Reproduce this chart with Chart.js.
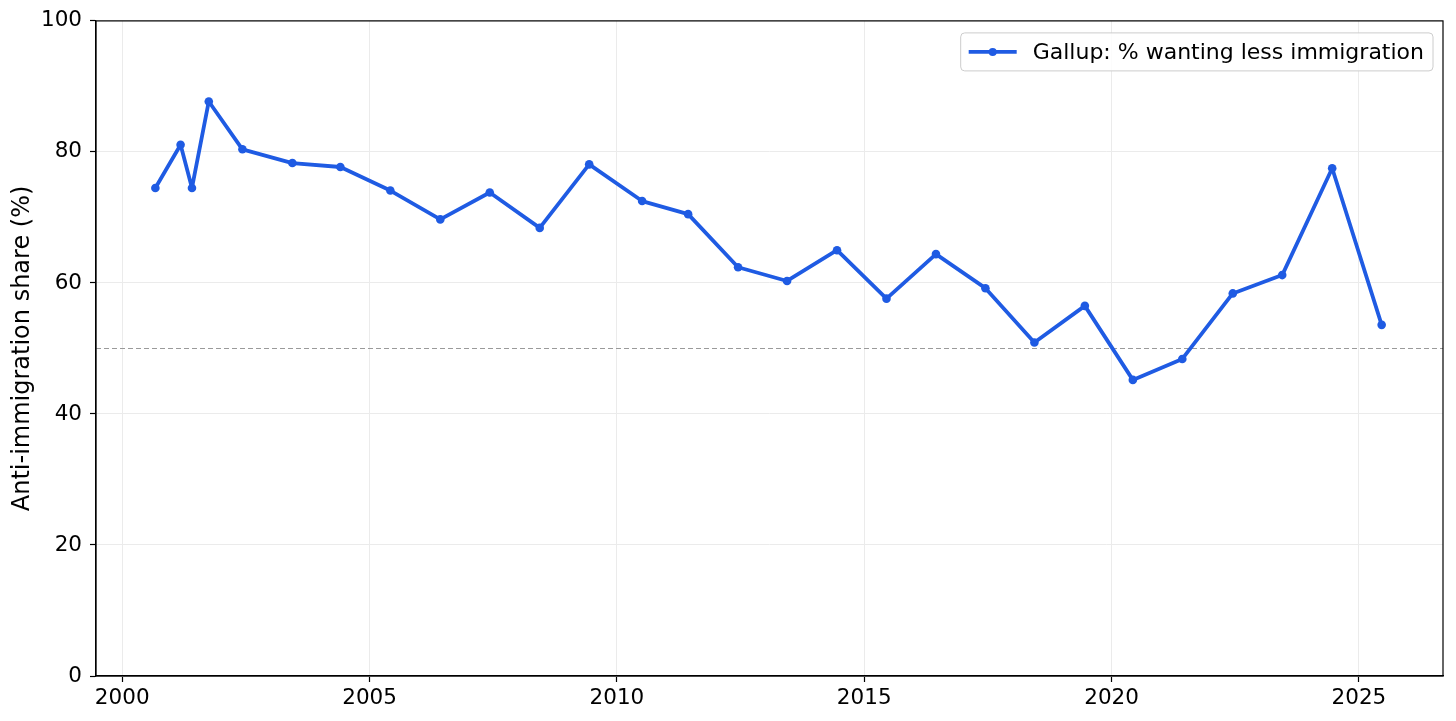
<!DOCTYPE html>
<html>
<head>
<meta charset="utf-8">
<title>Gallup: % wanting less immigration</title>
<script src="https://cdn.jsdelivr.net/npm/chart.js@4.4.1/dist/chart.umd.min.js"></script>
<style>
  html, body { margin: 0; padding: 0; background: #fff; }
  #wrap { width: 1456px; height: 721px; }
</style>
</head>
<body>
<div id="wrap"><canvas id="myChart" width="1456" height="721"></canvas></div>
<script>
// survey dates as decimal years
const surveyDates = [2000.67, 2001.18, 2001.41, 2001.75, 2002.43, 2003.44, 2004.41, 2005.42,
  2006.43, 2007.43, 2008.44, 2009.44, 2010.51, 2011.44, 2012.45, 2013.44, 2014.45, 2015.45,
  2016.45, 2017.45, 2018.44, 2019.46, 2020.43, 2021.43, 2022.45, 2023.45, 2024.46, 2025.46];
const lessImmigration = [74.5, 81.1, 74.5, 87.7, 80.4, 78.3, 77.7, 74.1,
  69.7, 73.8, 68.4, 78.1, 72.5, 70.5, 62.4, 60.3, 65.0, 57.6,
  64.4, 59.2, 50.9, 56.5, 45.2, 48.4, 58.4, 61.2, 77.5, 53.6];
const xTicks = [2000, 2005, 2010, 2015, 2020, 2025];
const yTicks = [0, 20, 40, 60, 80, 100];
const refLine = 50;

const seriesLabel = 'Gallup: % wanting less immigration';
const yTitle = 'Anti-immigration share (%)';
const blue = '#1f5be3';
const fontFamily = '"DejaVu Sans", sans-serif';
const tickSize = 21.5;
const legendSize = 22;

Chart.defaults.font.family = fontFamily;
Chart.defaults.color = '#000';

// top/right spines + dashed 50% line
const frame = {
  id: 'frame',
  beforeDatasetsDraw(chart) {
    const { ctx, chartArea, scales } = chart;
    const y = Math.round(scales.y.getPixelForValue(refLine)) + 0.5;
    ctx.save();
    ctx.strokeStyle = '#9a9a9a';
    ctx.lineWidth = 1;
    ctx.setLineDash([5, 3]);
    ctx.beginPath();
    ctx.moveTo(chartArea.left, y);
    ctx.lineTo(chartArea.right, y);
    ctx.stroke();
    ctx.restore();
  },
  afterDraw(chart) {
    const { ctx, chartArea } = chart;
    ctx.save();
    ctx.strokeStyle = '#000';
    ctx.lineWidth = 1.2;
    ctx.strokeRect(chartArea.left, chartArea.top, chartArea.right - chartArea.left, chartArea.bottom - chartArea.top);
    ctx.restore();
  }
};

// legend inside the plot, upper right
const insideLegend = {
  id: 'insideLegend',
  afterDraw(chart) {
    const { ctx, chartArea } = chart;
    const ds = chart.data.datasets[0];
    ctx.save();
    ctx.font = legendSize + 'px ' + fontFamily;
    const textW = ctx.measureText(ds.label).width;
    const w = textW + 81;
    const h = 38;
    const x = chartArea.right - 10 - w;
    const y = chartArea.top + 12;
    ctx.beginPath();
    ctx.roundRect(x, y, w, h, 4);
    ctx.fillStyle = 'rgba(255,255,255,0.85)';
    ctx.fill();
    ctx.strokeStyle = '#cccccc';
    ctx.lineWidth = 1;
    ctx.stroke();
    const cy = y + h / 2;
    ctx.strokeStyle = ds.borderColor;
    ctx.lineWidth = 3.8;
    ctx.beginPath();
    ctx.moveTo(x + 8, cy);
    ctx.lineTo(x + 56, cy);
    ctx.stroke();
    ctx.fillStyle = ds.borderColor;
    ctx.beginPath();
    ctx.arc(x + 32, cy, 4, 0, Math.PI * 2);
    ctx.fill();
    ctx.fillStyle = '#000';
    ctx.textBaseline = 'middle';
    ctx.fillText(ds.label, x + 72, cy + 1);
    ctx.restore();
  }
};

new Chart(document.getElementById('myChart'), {
  type: 'scatter',
  data: {
    datasets: [{
      label: seriesLabel,
      data: surveyDates.map((d, i) => ({ x: d, y: lessImmigration[i] })),
      showLine: true,
      borderColor: blue,
      backgroundColor: blue,
      borderWidth: 3.8,
      borderJoinStyle: 'round',
      borderCapStyle: 'round',
      pointRadius: 4.3,
      pointBorderWidth: 0,
      pointBackgroundColor: blue,
      tension: 0
    }]
  },
  options: {
    responsive: false,
    animation: false,
    devicePixelRatio: 1,
    layout: { padding: { top: 17, right: 13, left: 0, bottom: 0 } },
    plugins: {
      legend: { display: false },
      tooltip: { enabled: false }
    },
    scales: {
      x: {
        type: 'linear',
        min: 1999.47,
        max: 2026.7,
        afterBuildTicks: (axis) => { axis.ticks = xTicks.map((v) => ({ value: v })); },
        afterFit: (axis) => { axis.height = 45; },
        ticks: {
          font: { size: tickSize },
          padding: 4,
          maxRotation: 0,
          callback: (v) => String(v)
        },
        grid: { color: '#ebebeb', lineWidth: 1, tickLength: 6, tickColor: '#000', tickWidth: 1.2 },
        border: { color: '#000', width: 1.2 }
      },
      y: {
        min: 0,
        max: 100,
        afterBuildTicks: (axis) => { axis.ticks = yTicks.map((v) => ({ value: v })); },
        afterFit: (axis) => { axis.width = 96; },
        ticks: { font: { size: tickSize }, padding: 8 },
        grid: { color: '#ebebeb', lineWidth: 1, tickLength: 6, tickColor: '#000', tickWidth: 1.2 },
        border: { color: '#000', width: 1.2 },
        title: {
          display: true,
          text: yTitle,
          font: { size: 24 },
          padding: { top: 8, bottom: 0 }
        }
      }
    }
  },
  plugins: [frame, insideLegend]
});
</script>
</body>
</html>
